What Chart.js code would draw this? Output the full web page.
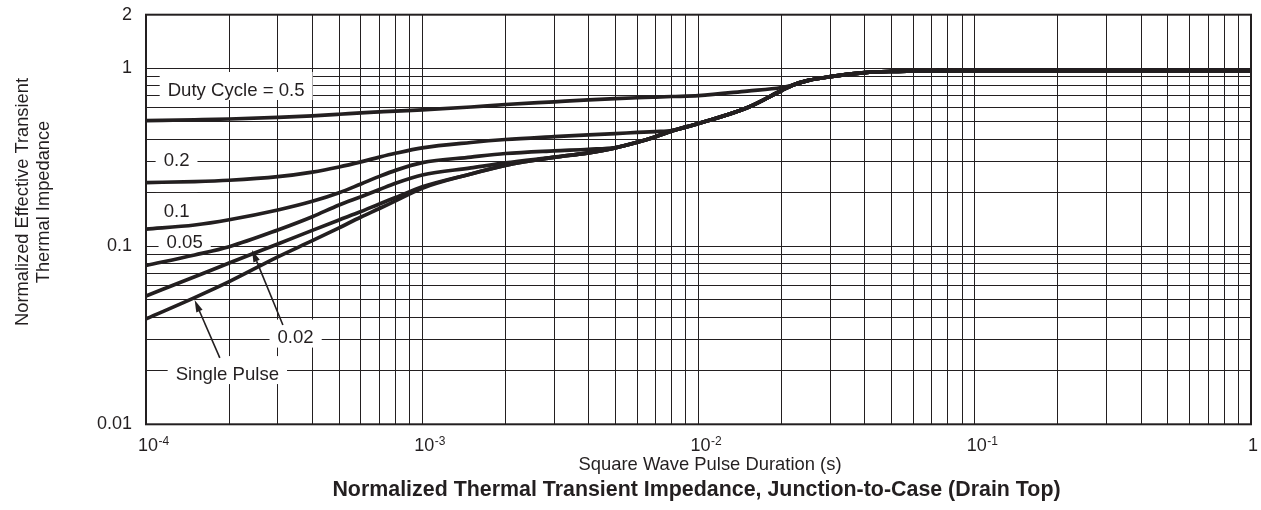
<!DOCTYPE html>
<html><head><meta charset="utf-8">
<script src="https://cdn.jsdelivr.net/npm/chart.js@4.4.1/dist/chart.umd.min.js"></script>
<style>html,body{margin:0;padding:0;background:#fff;}#wrap{width:1261px;height:510px;}</style>
</head><body><div id="wrap"><canvas id="c" width="1261" height="510"></canvas></div>
<script>
// ---- data ----
const pulseTimes = [1e-4,1.5e-4,2e-4,3e-4,4e-4,5e-4,6e-4,7e-4,8e-4,1e-3,1.5e-3,2e-3,3e-3,4e-3,5e-3,6e-3,7e-3,8e-3,1e-2,1.5e-2,2e-2,2.2e-2,2.5e-2,3e-2,4e-2,5e-2,7e-2,0.1,0.2,0.5,1];
const duty05 = [0.508,0.514,0.519,0.530,0.541,0.552,0.562,0.569,0.575,0.584,0.606,0.626,0.648,0.664,0.675,0.683,0.689,0.694,0.702,0.745,0.780,0.806,0.855,0.897,0.945,0.960,0.968,0.970,0.970,0.970,0.970];
const duty02 = [0.228,0.231,0.235,0.246,0.261,0.279,0.298,0.317,0.333,0.357,0.383,0.398,0.413,0.423,0.430,0.436,0.441,0.447,0.490,0.600,0.750,0.806,0.855,0.897,0.945,0.960,0.968,0.970,0.970,0.970,0.970];
const duty01 = [0.125,0.1317,0.141,0.160,0.179,0.200,0.224,0.247,0.267,0.295,0.317,0.332,0.344,0.351,0.359,0.384,0.413,0.444,0.490,0.600,0.750,0.806,0.855,0.897,0.945,0.960,0.968,0.970,0.970,0.970,0.970];
const duty005 = [0.078,0.0894,0.0995,0.1235,0.1466,0.1706,0.190,0.2085,0.226,0.2516,0.2755,0.294,0.317,0.335,0.357,0.384,0.413,0.444,0.490,0.600,0.750,0.806,0.855,0.897,0.945,0.960,0.968,0.970,0.970,0.970,0.970];
const duty002 = [0.0526,0.0674,0.0806,0.103,0.1229,0.1406,0.1567,0.173,0.1878,0.216,0.255,0.285,0.316,0.335,0.357,0.384,0.413,0.444,0.490,0.600,0.750,0.806,0.855,0.897,0.945,0.960,0.968,0.970,0.970,0.970,0.970];
const singlePulse = [0.0391,0.0515,0.0633,0.0872,0.1075,0.1270,0.146,0.163,0.180,0.212,0.255,0.285,0.316,0.335,0.357,0.384,0.413,0.444,0.490,0.600,0.750,0.806,0.855,0.897,0.945,0.960,0.968,0.970,0.970,0.970,0.970];
const seriesNames = ['Duty Cycle = 0.5','0.2','0.1','0.05','0.02','Single Pulse'];
const seriesValues = [duty05,duty02,duty01,duty005,duty002,singlePulse];

const yTickValues = [0.01,0.02,0.03,0.04,0.05,0.06,0.07,0.08,0.09,0.1,0.2,0.3,0.4,0.5,0.6,0.7,0.8,0.9,1,2];
const yTickTexts = ['0.01','','','','','','','','','0.1','','','','','','','','','1','2'];
const xTickValues = [1e-4,2e-4,3e-4,4e-4,5e-4,6e-4,7e-4,8e-4,9e-4,1e-3,2e-3,3e-3,4e-3,5e-3,6e-3,7e-3,8e-3,9e-3,1e-2,2e-2,3e-2,4e-2,5e-2,6e-2,7e-2,8e-2,9e-2,0.1,0.2,0.3,0.4,0.5,0.6,0.7,0.8,0.9,1];
const xLabelValues = [1e-4,1e-3,1e-2,1e-1,1];
const xLabelBase = ['10','10','10','10','1'];
const xLabelExp = ['-4','-3','-2','-1',''];

// annotation labels placed in data coordinates
const labelTexts = ['Duty Cycle = 0.5','0.2','0.1','0.05','0.02','Single Pulse'];
const labelTimes = [2.12e-4,1.29e-4,1.29e-4,1.38e-4,3.48e-4,1.97e-4];
const labelValues = [0.765,0.307,0.16,0.107,0.0311,0.0194];
// arrows: tail -> tip, in data coordinates
const arrowTailT = [3.13e-4,1.85e-4];
const arrowTailV = [0.0361,0.0236];
const arrowTipT = [2.42e-4,1.50e-4];
const arrowTipV = [0.0953,0.0499];

const INK = '#231f20';
const FONT = '"Liberation Sans", Arial, Helvetica, sans-serif';

const annot = {
  id: 'annot',
  beforeDatasetsDraw(chart) {
    const {ctx, scales:{x, y}} = chart;
    ctx.save();
    ctx.font = '18.6px ' + FONT;
    ctx.textAlign = 'center';
    ctx.textBaseline = 'alphabetic';
    for (let i = 0; i < labelTexts.length; i++) {
      const px = x.getPixelForValue(labelTimes[i]);
      const py = y.getPixelForValue(labelValues[i]);
      const w = ctx.measureText(labelTexts[i]).width;
      ctx.fillStyle = '#fff';
      ctx.fillRect(px - w/2 - 8, py - 17, w + 16, 28);
      ctx.fillStyle = INK;
      ctx.fillText(labelTexts[i], px, py + 6.6);
    }
    ctx.restore();
  },
  afterDatasetsDraw(chart) {
    const {ctx, chartArea:a, scales:{x, y}} = chart;
    ctx.save();
    ctx.strokeStyle = INK; ctx.fillStyle = INK; ctx.lineWidth = 1.6;
    for (let i = 0; i < arrowTailT.length; i++) {
      const x0 = x.getPixelForValue(arrowTailT[i]), y0 = y.getPixelForValue(arrowTailV[i]);
      const x1 = x.getPixelForValue(arrowTipT[i]), y1 = y.getPixelForValue(arrowTipV[i]);
      const ang = Math.atan2(y1 - y0, x1 - x0);
      const L = 12, W = 3.4;
      const bx = x1 - L*Math.cos(ang), by = y1 - L*Math.sin(ang);
      ctx.beginPath(); ctx.moveTo(x0, y0); ctx.lineTo(bx, by); ctx.stroke();
      ctx.beginPath();
      ctx.moveTo(x1, y1);
      ctx.lineTo(bx + W*Math.sin(ang), by - W*Math.cos(ang));
      ctx.lineTo(bx - W*Math.sin(ang), by + W*Math.cos(ang));
      ctx.closePath(); ctx.fill();
    }
    ctx.lineWidth = 2;
    ctx.strokeRect(a.left, a.top, a.right - a.left, a.bottom - a.top);
    ctx.restore();
  },
  afterDraw(chart) {
    const {ctx, chartArea:a, scales:{x}} = chart;
    ctx.save();
    ctx.fillStyle = INK;
    ctx.textBaseline = 'alphabetic';
    ctx.textAlign = 'left';
    for (let i = 0; i < xLabelValues.length; i++) {
      const px = x.getPixelForValue(xLabelValues[i]) + 2;
      ctx.font = '18px ' + FONT;
      const wb = ctx.measureText(xLabelBase[i]).width;
      const start = px - wb/2;
      ctx.fillText(xLabelBase[i], start, a.bottom + 27);
      ctx.font = '12px ' + FONT;
      ctx.fillText(xLabelExp[i], start + wb + 0.5, a.bottom + 21);
    }
    ctx.textAlign = 'center';
    ctx.font = '18.4px ' + FONT;
    ctx.fillText('Square Wave Pulse Duration (s)', 710, a.bottom + 46);
    ctx.font = 'bold 21.4px ' + FONT;
    ctx.fillText('Normalized Thermal Transient Impedance, Junction-to-Case (Drain Top)', 696.5, a.bottom + 71.5);
    ctx.font = '18.3px ' + FONT;
    ctx.translate(0, 202);
    ctx.rotate(-Math.PI/2);
    ctx.fillText('Normalized Effective Transient', 0, 27.5);
    ctx.fillText('Thermal Impedance', 0, 49);
    ctx.restore();
  }
};

new Chart(document.getElementById('c'), {
  type: 'line',
  data: {
    datasets: seriesValues.map((vals, k) => ({
      label: seriesNames[k],
      data: pulseTimes.map((t, i) => ({x: t, y: vals[i]})),
      borderColor: INK,
      borderWidth: 3.7,
      pointRadius: 0,
      fill: false,
      cubicInterpolationMode: 'monotone'
    }))
  },
  options: {
    responsive: false,
    animation: false,
    devicePixelRatio: 1,
    layout: {padding: {left: 0, right: 10, top: 14.7, bottom: 0}},
    plugins: {legend: {display: false}, tooltip: {enabled: false}, title: {display: false}},
    scales: {
      x: {
        type: 'logarithmic', min: 1e-4, max: 1,
        afterBuildTicks: s => { s.ticks = xTickValues.map(v => ({value: v})); },
        ticks: {display: false, autoSkip: false},
        grid: {color: INK, lineWidth: 1, drawTicks: false},
        border: {display: false},
        afterFit: s => { s.height = 85.7; s.paddingLeft = 0; s.paddingRight = 0; }
      },
      y: {
        type: 'logarithmic', min: 0.01, max: 2,
        afterBuildTicks: s => { s.ticks = yTickValues.map(v => ({value: v})); },
        ticks: {
          autoSkip: false, padding: 14, color: INK,
          font: {family: FONT, size: 18},
          callback: (v, i) => yTickTexts[i]
        },
        grid: {color: INK, lineWidth: 1, drawTicks: false},
        border: {display: false},
        afterFit: s => { s.width = 146; s.paddingTop = 0; s.paddingBottom = 0; }
      }
    }
  },
  plugins: [annot]
});
</script></body></html>
